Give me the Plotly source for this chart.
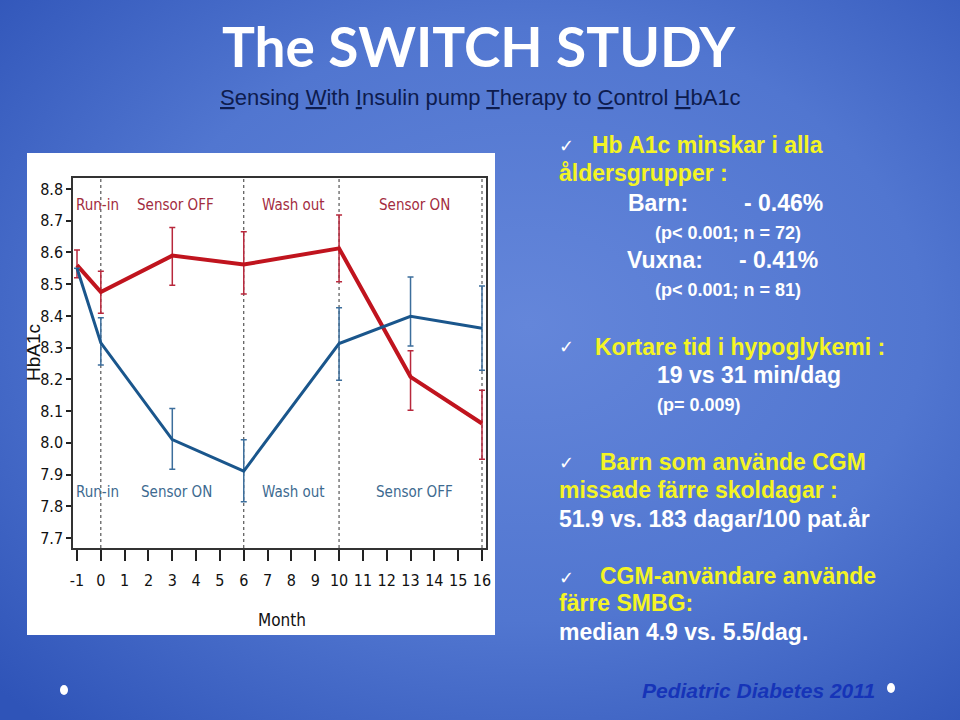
import base64
import plotly.graph_objects as go

# ---------------- data ----------------
months = [-1, 0, 3, 6, 10, 13, 16]
off_first = [8.56, 8.475, 8.59, 8.562, 8.613, 8.208, 8.061]     # red: Sensor OFF first
off_hi = [8.608, 8.541, 8.679, 8.665, 8.718, 8.29, 8.166]
off_lo = [8.52, 8.408, 8.497, 8.469, 8.508, 8.103, 7.948]
on_first = [8.55, 8.315, 8.010, 7.911, 8.313, 8.399, 8.361]     # blue: Sensor ON first
on_hi = [8.55, 8.394, 8.108, 8.010, 8.426, 8.523, 8.494]
on_lo = [8.55, 8.245, 7.917, 7.814, 8.197, 8.305, 8.229]
x_ticks = list(range(-1, 17))
y_ticks = [7.7, 7.8, 7.9, 8.0, 8.1, 8.2, 8.3, 8.4, 8.5, 8.6, 8.7, 8.8]
phase_lines = [0, 6, 10, 16]
red_phases = [("Run-in", -1.12), ("Sensor OFF", 3.12), ("Wash out", 8.08), ("Sensor ON", 13.16)]
blue_phases = [("Run-in", -1.12), ("Sensor ON", 3.16), ("Wash out", 8.08), ("Sensor OFF", 13.16)]
red_label_y = 8.75
blue_label_y = 7.845

# ---------------- geometry (pixels) ----------------
W, H = 960, 720
PL, PR, PT, PB = 73, 486, 178, 548
pw, ph = PR - PL, PB - PT


def px(x):
    return (x - PL) / pw


def py(y):
    return (PB - y) / ph


RED = "#c0141e"
RED_ERR = "#b8283c"
BLUE = "#1a568c"
BLUE_ERR = "#3c6e9c"
RED_TXT = "#a32c40"
BLUE_TXT = "#3d6a90"
NARROW = "DejaVu Sans Condensed, Liberation Sans Narrow, sans-serif"
ARIAL = "Liberation Sans, Arial, sans-serif"
YELLOW = "#f4f424"

fig = go.Figure()

fig.add_trace(go.Scatter(
    x=months, y=off_first, mode="lines",
    line=dict(color=RED, width=4),
    error_y=dict(type="data", symmetric=False,
                 array=[h - v for h, v in zip(off_hi, off_first)],
                 arrayminus=[v - l for v, l in zip(off_first, off_lo)],
                 color=RED_ERR, thickness=1.5, width=3),
    showlegend=False, cliponaxis=False))
fig.add_trace(go.Scatter(
    x=months, y=on_first, mode="lines",
    line=dict(color=BLUE, width=3),
    error_y=dict(type="data", symmetric=False,
                 array=[h - v for h, v in zip(on_hi, on_first)],
                 arrayminus=[v - l for v, l in zip(on_first, on_lo)],
                 color=BLUE_ERR, thickness=1.5, width=3),
    showlegend=False, cliponaxis=False))

# background gradient via inline svg
svg = f'''<svg xmlns="http://www.w3.org/2000/svg" width="{W}" height="{H}">
<defs><radialGradient id="g" cx="0.55" cy="0.45" r="0.75">
<stop offset="0" stop-color="#6486da"/><stop offset="0.55" stop-color="#5176d0"/>
<stop offset="1" stop-color="#2f54b8"/></radialGradient></defs>
<rect width="{W}" height="{H}" fill="url(#g)"/></svg>'''
src = "data:image/svg+xml;base64," + base64.b64encode(svg.encode()).decode()

shapes = []
# white panel
shapes.append(dict(type="rect", xref="paper", yref="paper",
                   x0=px(27), x1=px(495), y0=py(635), y1=py(153),
                   fillcolor="white", line=dict(width=0), layer="below"))
for m in phase_lines:
    shapes.append(dict(type="line", xref="x", yref="paper", x0=m, x1=m, y0=0, y1=1,
                       line=dict(color="#333333", width=1, dash="dot"), layer="below"))
# footer dots
for cx, cy in [(64, 690), (891, 688)]:
    shapes.append(dict(type="circle", xref="paper", yref="paper",
                       x0=px(cx - 4), x1=px(cx + 4), y0=py(cy + 5), y1=py(cy - 5),
                       fillcolor="white", line=dict(width=0)))

ann = []
for t, xv in red_phases:
    ann.append(dict(x=xv, y=red_label_y, xref="x", yref="y", text=t, showarrow=False,
                    xanchor="left" if t == "Run-in" else "center", yanchor="middle",
                    font=dict(family=NARROW, size=15, color=RED_TXT)))
for t, xv in blue_phases:
    ann.append(dict(x=xv, y=blue_label_y, xref="x", yref="y", text=t, showarrow=False,
                    xanchor="left" if t == "Run-in" else "center", yanchor="middle",
                    font=dict(family=NARROW, size=15, color=BLUE_TXT)))

ann.append(dict(x=px(282), y=py(620), xref="paper", yref="paper", text="Month",
                xanchor="center", yanchor="middle",
                showarrow=False, font=dict(family=NARROW, size=17, color="#111")))
ann.append(dict(x=px(33), y=py(353), xref="paper", yref="paper", text="HbA1c",
                xanchor="center", yanchor="middle",
                textangle=-90, showarrow=False,
                font=dict(family=ARIAL, size=19, color="#111")))

# titles
ann.append(dict(x=px(479), y=py(46), xref="paper", yref="paper",
                xanchor="center", yanchor="middle",
                text="<b>The SWITCH STUDY</b>", showarrow=False,
                font=dict(family="Lato, Open Sans, sans-serif", size=55, color="white")))
ann.append(dict(x=px(480), y=py(97), xref="paper", yref="paper",
                xanchor="center", yanchor="middle",
                text="<u>S</u>ensing <u>W</u>ith <u>I</u>nsulin pump <u>T</u>herapy to <u>C</u>ontrol <u>H</u>bA1c",
                showarrow=False, font=dict(family=ARIAL, size=22, color="#0e1c4e")))


# right-hand text block
def txt(x, y, s, color="white", size=23, family=ARIAL, bold=True):
    ann.append(dict(x=px(x), y=py(y), xref="paper", yref="paper", xanchor="left",
                    yanchor="middle", text=f"<b>{s}</b>" if bold else s, showarrow=False,
                    font=dict(family=family, size=size, color=color)))


CHECK = "\u2713"
for yy in [145, 346, 462, 577]:
    txt(557, yy, CHECK, color="white", size=18, family="DejaVu Sans", bold=False)

txt(590, 145, "Hb A1c minskar i alla", YELLOW)
txt(557, 173, "åldersgrupper :", YELLOW)
txt(626, 203, "Barn:")
txt(742, 203, "- 0.46%")
txt(653, 233, "(p&lt; 0.001; n = 72)", size=18)
txt(625, 260, "Vuxna:")
txt(737, 260, "- 0.41%")
txt(653, 290, "(p&lt; 0.001; n = 81)", size=18)
txt(593, 347, "Kortare tid i hypoglykemi :", YELLOW)
txt(655, 375, "19 vs 31 min/dag")
txt(655, 405, "(p= 0.009)", size=18)
txt(598, 462, "Barn som använde CGM", YELLOW)
txt(557, 490, "missade färre skoldagar :", YELLOW)
txt(557, 519, "51.9 vs. 183 dagar/100 pat.år")
txt(598, 576, "CGM-användare använde", YELLOW)
txt(557, 603, "färre SMBG:", YELLOW)
txt(557, 632, "median 4.9 vs. 5.5/dag.")
ann.append(dict(x=px(877), y=py(690), xref="paper", yref="paper", xanchor="right",
                yanchor="middle",
                text="<b><i>Pediatric Diabetes 2011</i></b>", showarrow=False,
                font=dict(family=ARIAL, size=21, color="#1634b8")))

x_min = -1 - (77 - PL) / 23.8
x_max = 16 + (PR - 482) / 23.8
y_per = 317.0
y_max = 8.8 + (189 - PT) / y_per
y_min = 7.7 - (PB - 538) / y_per

fig.update_layout(
    width=W, height=H,
    margin=dict(l=PL, r=W - PR, t=PT, b=H - PB, pad=0),
    paper_bgcolor="#4a6fcc", plot_bgcolor="rgba(0,0,0,0)",
    images=[dict(source=src, xref="paper", yref="paper", x=px(0), y=py(0),
                 sizex=W / pw, sizey=H / ph, xanchor="left", yanchor="top",
                 sizing="stretch", layer="below")],
    shapes=shapes, annotations=ann,
    xaxis=dict(range=[x_min, x_max], tickvals=x_ticks, ticktext=[str(v) for v in x_ticks],
               showgrid=False, zeroline=False, showline=True, mirror=True,
               linecolor="#333333", linewidth=1.5, ticks="outside", ticklen=11,
               tickwidth=1.5, tickcolor="#222", ticklabelstandoff=6,
               tickfont=dict(family=NARROW, size=16, color="#111")),
    yaxis=dict(range=[y_min, y_max], tickvals=y_ticks, ticktext=[f"{v:.1f}" for v in y_ticks],
               showgrid=False, zeroline=False, showline=True, mirror=True,
               linecolor="#333333", linewidth=1.5, ticks="outside", ticklen=5,
               tickwidth=1.5, tickcolor="#222",
               tickfont=dict(family=NARROW, size=16, color="#111")),
)

fig.write_html("out.html", config={"displayModeBar": False},
               post_script="document.body.style.margin='0';document.body.style.overflow='hidden';")
